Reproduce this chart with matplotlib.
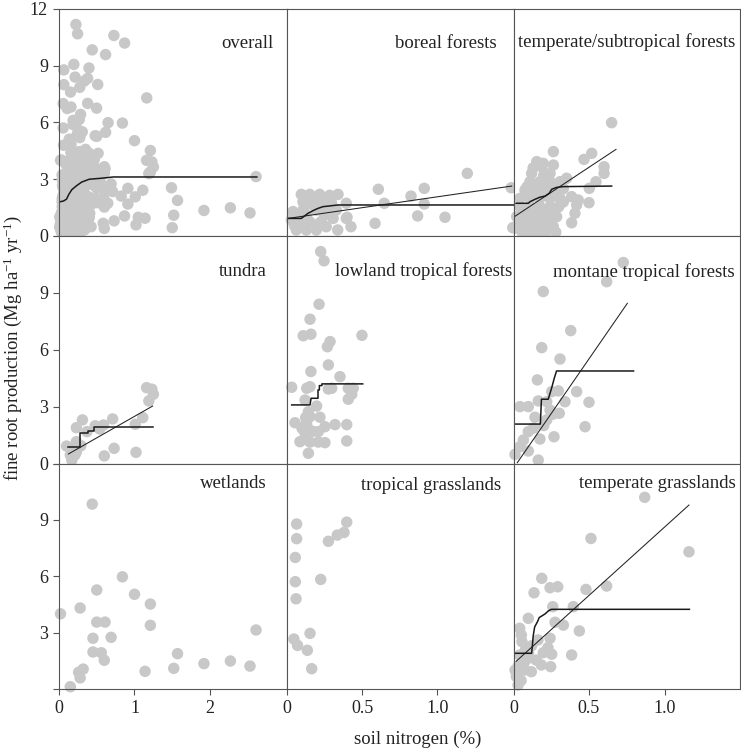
import matplotlib
matplotlib.use('Agg')
import matplotlib.pyplot as plt
import numpy as np

plt.rcParams['font.family'] = ['Liberation Serif', 'DejaVu Serif']
plt.rcParams['mathtext.fontset'] = 'custom'
plt.rcParams['mathtext.rm'] = 'Liberation Serif'
plt.rcParams['mathtext.it'] = 'Liberation Serif:italic'
plt.rcParams['mathtext.bf'] = 'Liberation Serif:bold'

# ---------------- data (soil N %, fine root production Mg ha-1 yr-1) ----------------
boreal_n = [1.198, 1.49, 0.607, 0.824, 0.912, 0.646, 0.912, 0.868, 1.05, 0.585, 1.50, 0.399, 0.425, 0.337,
            0.095, 0.151, 0.217, 0.284, 0.339, 0.106, 0.173, 0.239, 0.294, 0.394, 0.04, 0.106, 0.195, 0.261,
            0.328, 0.394, 0.306, 0.029, 0.084, 0.15, 0.227, 0.261, 0.062, 0.128, 0.195,
            0.07, 0.13, 0.18, 0.25, 0.05, 0.2, 0.12, 0.3]
boreal_fr = [3.31, 2.55, 2.47, 2.11, 2.52, 1.73, 1.69, 1.06, 0.99, 0.67, 0.44, 0.99, 0.49, 0.32,
             2.2, 2.2, 2.2, 2.15, 2.2, 1.81, 1.81, 1.81, 1.81, 1.73, 1.29, 1.37, 1.37, 1.37,
             1.37, 0.93, 0.93, 0.85, 0.76, 0.76, 0.76, 0.49, 0.32, 0.32, 0.32,
             1.0, 1.1, 1.6, 1.1, 0.55, 0.6, 1.6, 1.6]

temperate_n = [0.65, 0.264, 0.518, 0.467, 0.6, 0.6, 0.546, 0.502, 0.5, 0.385, 0.429, 0.418, 0.407, 0.385, 0.017,
               0.154, 0.197, 0.187, 0.264, 0.242, 0.12, 0.352,
               0.109, 0.175, 0.242, 0.308, 0.076, 0.142, 0.209, 0.275,
               0.043, 0.109, 0.175, 0.242, 0.308, 0.043, 0.109, 0.175, 0.242, 0.30,
               0.021, 0.087, 0.154, 0.22, 0.286, 0.015, 0.087, 0.154, 0.22, 0.264, 0.154, 0.209,
               0.13, 0.2, 0.09, 0.16, 0.27, 0.06, 0.13, 0.2, 0.26, 0.12, 0.19, 0.25, 0.05, 0.33, 0.33,
               0.06, 0.28, 0.1]
temperate_fr = [5.99, 4.46, 4.37, 4.05, 3.66, 3.31, 2.87, 2.52, 1.76, 2.08, 1.90, 1.64, 1.20, 0.70, 0.41,
                3.93, 3.84, 3.66, 3.75, 3.31, 3.31, 3.05,
                2.87, 2.87, 2.87, 2.87, 2.43, 2.43, 2.43, 2.43,
                1.99, 1.99, 1.99, 1.99, 1.99, 1.55, 1.55, 1.55, 1.55, 1.55,
                1.02, 1.02, 1.02, 1.02, 1.02, 0.49, 0.49, 0.40, 0.49, 0.49, 0.05, 0.05,
                3.6, 3.2, 2.6, 2.2, 2.2, 1.3, 1.3, 1.3, 1.3, 0.75, 0.75, 0.8, 0.75, 2.5, 1.8,
                0.15, 0.2, 0.25]

tundra_n = [1.16, 1.23, 1.25, 1.19, 1.11, 1.01, 1.02, 0.71, 0.73, 0.60, 0.59, 0.48, 0.54, 0.31, 0.23, 0.37,
            0.10, 0.23, 0.20, 0.29, 0.15, 0.21, 0.17, 0.23]
tundra_fr = [4.0, 3.92, 3.65, 3.30, 2.42, 2.07, 0.59, 2.35, 0.80, 0.40, 2.03, 1.99, 1.82, 2.30, 1.89, 1.68,
             0.92, 1.15, 0.80, 0.94, 0.45, 0.45, 0.18, 0.6]

lowland_n = [0.224, 0.246, 0.213, 0.153, 0.108, 0.159, 0.498, 0.286, 0.268, 0.275, 0.159, 0.352, 0.031, 0.131,
             0.153, 0.275, 0.297, 0.407, 0.44, 0.43, 0.407, 0.12, 0.197, 0.142, 0.124, 0.153, 0.219, 0.053,
             0.131, 0.252, 0.319, 0.397, 0.208, 0.12, 0.086, 0.153, 0.208, 0.252, 0.397, 0.142,
             0.13, 0.17, 0.1]
lowland_fr = [11.18, 10.69, 8.40, 7.61, 6.74, 6.82, 6.76, 6.43, 6.16, 5.2, 4.85, 4.58, 4.02, 3.97,
              4.05, 3.93, 3.97, 3.97, 3.97, 3.65, 3.39, 3.35, 3.03, 2.73, 2.42, 2.47, 2.44, 2.15,
              2.03, 1.94, 2.05, 2.05, 1.68, 1.59, 1.15, 1.13, 1.13, 1.10, 1.19, 0.54,
              2.2, 1.7, 1.85]

montane_n = [0.727, 0.617, 0.197, 0.379, 0.187, 0.308, 0.158, 0.297, 0.253, 0.418, 0.164, 0.22, 0.341, 0.5,
             0.043, 0.098, 0.242, 0.303, 0.142, 0.22, 0.474, 0.131, 0.098, 0.175, 0.268, 0.065, 0.043,
             0.098, 0.01, 0.164, 0.26, 0.2]
montane_fr = [10.6, 9.59, 9.07, 7.01, 6.11, 5.51, 4.41, 3.83, 3.79, 3.79, 3.30, 3.26, 3.26, 3.23,
              3.0, 3.0, 2.82, 2.65, 2.44, 2.30, 1.94, 1.86, 1.68, 1.29, 1.41, 1.24, 0.89,
              0.66, 0.48, 0.18, 2.6, 2.0]

wetland_n = [0.02, 0.44, 0.15, 0.28, 0.50, 0.84, 1.00, 1.21, 1.21, 0.50, 0.61, 0.45, 0.69, 0.45, 0.56, 0.60,
             0.26, 0.32, 0.28, 1.14, 1.52, 1.57, 1.92, 2.27, 2.53, 2.61]
wetland_fr = [4.0, 9.84, 0.12, 4.31, 5.27, 5.97, 5.04, 4.52, 3.39, 3.56, 3.56, 2.70, 2.75, 1.97, 1.93, 1.53,
              0.89, 1.06, 0.59, 0.94, 1.10, 1.88, 1.35, 1.49, 1.22, 3.14]

tropgrass_n = [0.064, 0.064, 0.055, 0.055, 0.06, 0.224, 0.275, 0.334, 0.379, 0.397, 0.153, 0.046, 0.07,
               0.135, 0.164]
tropgrass_fr = [8.78, 8.0, 7.0, 5.71, 4.80, 5.83, 7.86, 8.19, 8.33, 8.88, 2.96, 2.66, 2.32, 2.06, 1.08]

tempgrass_n = [0.869, 0.513, 1.162, 0.187, 0.242, 0.293, 0.136, 0.48, 0.617, 0.26, 0.396, 0.098, 0.275, 0.33,
               0.436, 0.242, 0.385, 0.197, 0.253, 0.246, 0.041, 0.052, 0.056, 0.162, 0.228, 0.041, 0.096,
               0.151, 0.184, 0.03, 0.074, 0.118, 0.019, 0.05, 0.03, 0.01, 0.08, 0.12, 0.07, 0.1]
tempgrass_fr = [10.2, 8.01, 7.30, 5.89, 5.39, 5.44, 5.12, 5.30, 5.48, 4.38, 4.38, 3.76, 3.55, 3.40,
                3.09, 2.70, 1.81, 1.93, 1.85, 1.19, 3.23, 2.87, 2.52, 2.61, 2.2, 1.81, 1.63,
                1.54, 1.28, 1.19, 1.01, 0.92, 0.66, 0.45, 0.21, 1.0, 2.1, 2.3, 1.4, 1.9]

# fitted curves (step / monotone fits and linear regressions)
overall_step_n = [0.004, 0.06, 0.1, 0.13, 0.17, 0.23, 0.3, 0.4, 0.55, 0.72, 2.62]
overall_step_fr = [1.80, 1.85, 1.95, 2.2, 2.45, 2.65, 2.85, 3.0, 3.05, 3.12, 3.12]

boreal_step_n = [0.007, 0.095, 0.14, 0.173, 0.206, 0.239, 0.339, 1.508]
boreal_step_fr = [0.93, 0.93, 1.2, 1.34, 1.46, 1.55, 1.64, 1.64]
boreal_reg_n = [0.007, 1.493]
boreal_reg_fr = [0.93, 2.64]

temperate_step_n = [0.017, 0.098, 0.109, 0.142, 0.175, 0.209, 0.237, 0.253, 0.286, 0.33, 0.65]
temperate_step_fr = [1.73, 1.73, 1.81, 1.94, 2.05, 2.11, 2.26, 2.47, 2.57, 2.61, 2.64]
temperate_reg_n = [0.0, 0.679]
temperate_reg_fr = [0.99, 4.58]

tundra_step_n = [0.115, 0.278, 0.278, 0.39, 0.39, 0.47, 0.47, 0.54, 0.54, 1.25]
tundra_step_fr = [0.89, 0.89, 1.59, 1.59, 1.73, 1.73, 1.91, 1.91, 1.94, 1.94]
tundra_reg_n = [0.124, 1.24]
tundra_reg_fr = [0.50, 3.03]

lowland_step_n = [0.031, 0.153, 0.16, 0.206, 0.206, 0.215, 0.215, 0.232, 0.232, 0.503]
lowland_step_fr = [3.09, 3.09, 3.44, 3.44, 3.88, 3.88, 4.11, 4.11, 4.2, 4.2]

montane_step_n = [0.0, 0.178, 0.185, 0.23, 0.24, 0.255, 0.27, 0.285, 0.30, 0.795]
montane_step_fr = [2.08, 2.08, 3.39, 3.39, 3.65, 4.05, 4.5, 4.88, 4.88, 4.88]
montane_reg_n = [0.025, 0.754]
montane_reg_fr = [0.04, 8.45]

tempgrass_step_n = [0.01, 0.12, 0.125, 0.13, 0.14, 0.16, 0.17, 0.19, 0.21, 0.23, 0.25, 1.165]
tempgrass_step_fr = [1.90, 1.90, 2.3, 2.8, 3.3, 3.6, 3.8, 3.9, 4.0, 4.15, 4.24, 4.24]
tempgrass_reg_n = [0.017, 1.162]
tempgrass_reg_fr = [1.47, 9.79]

labels = ['overall', 'boreal forests', 'temperate/subtropical forests',
          'tundra', 'lowland tropical forests', 'montane tropical forests',
          'wetlands', 'tropical grasslands', 'temperate grasslands']

overall_n = (boreal_n + temperate_n + tundra_n + lowland_n + montane_n + wetland_n + tropgrass_n + tempgrass_n)
overall_fr = (boreal_fr + temperate_fr + tundra_fr + lowland_fr + montane_fr + wetland_fr + tropgrass_fr
              + tempgrass_fr)

y_ticks = [0, 3, 6, 9, 12]
x_ticks_col = [[0, 1, 2], [0, 0.5, 1.0], [0, 0.5, 1.0]]
x_ticklabels_col = [['0', '1', '2'], ['0', '0.5', '1.0'], ['0', '0.5', '1.0']]

# ---------------- layout ----------------
W, H = 741, 749
fig = plt.figure(figsize=(W / 100, H / 100), dpi=100)

col_l = [59, 287, 513.5]
col_r = [287, 513.5, 740]
row_t = [9, 236, 463.5]
row_b = [236, 463.5, 689]
xmax_col = [3.02, 1.505, 1.50]

panels = [
    (overall_n, overall_fr, (overall_step_n, overall_step_fr), None),
    (boreal_n, boreal_fr, (boreal_step_n, boreal_step_fr), (boreal_reg_n, boreal_reg_fr)),
    (temperate_n, temperate_fr, (temperate_step_n, temperate_step_fr), (temperate_reg_n, temperate_reg_fr)),
    (tundra_n, tundra_fr, (tundra_step_n, tundra_step_fr), (tundra_reg_n, tundra_reg_fr)),
    (lowland_n, lowland_fr, (lowland_step_n, lowland_step_fr), None),
    (montane_n, montane_fr, (montane_step_n, montane_step_fr), (montane_reg_n, montane_reg_fr)),
    (wetland_n, wetland_fr, None, None),
    (tropgrass_n, tropgrass_fr, None, None),
    (tempgrass_n, tempgrass_fr, (tempgrass_step_n, tempgrass_step_fr), (tempgrass_reg_n, tempgrass_reg_fr)),
]
# label right-gap (px) and baseline offset from panel top (px)
label_gap = [14, 17, 5, 20, 1, 5, 20, 12, 4]
label_base = [39, 39, 38, 40, 40, 41, 25, 27, 24]

spine_col = '#555555'
pt_col = '#c8c8c8'

for i, (xs, ys, step, reg) in enumerate(panels):
    r, c = divmod(i, 3)
    l, rr, t, b = col_l[c], col_r[c], row_t[r], row_b[r]
    ax = fig.add_axes([l / W, 1 - b / H, (rr - l) / W, (b - t) / H])
    ax.set_xlim(0, xmax_col[c])
    ax.set_ylim(0, 12)
    ax.scatter(xs, ys, s=68, color=pt_col, edgecolors='none', zorder=2, clip_on=False)
    if reg is not None:
        ax.plot(reg[0], reg[1], color='#222222', lw=0.75, zorder=3)
    if step is not None:
        ax.plot(step[0], step[1], color='#1a1a1a', lw=1.1, zorder=4)
    for sp in ax.spines.values():
        sp.set_color(spine_col)
        sp.set_linewidth(0.8)
        sp.set_zorder(5)
    pw, ph = rr - l, b - t
    ax.text(1 - label_gap[i] / pw, 1 - label_base[i] / ph, labels[i], transform=ax.transAxes,
            ha='right', va='baseline', fontsize=13.5, color='#222222', zorder=6)
    ax.tick_params(direction='out', length=4, width=0.8, color=spine_col, labelsize=13,
                   labelcolor='#222222', pad=4)
    if c == 0:
        ax.set_yticks(y_ticks)
        if r == 0:
            ax.set_yticklabels(['0', '3', '6', '9', '12'])
        elif r == 1:
            ax.set_yticklabels(['0', '3', '6', '9', ''])
        else:
            ax.set_yticklabels(['', '3', '6', '9', ''])
    else:
        ax.set_yticks([])
    if r == 2:
        ax.set_xticks(x_ticks_col[c])
        ax.set_xticklabels(x_ticklabels_col[c])
    else:
        ax.set_xticks([])

fig.text(418 / W, 1 - 744 / H, 'soil nitrogen (%)', ha='center', va='baseline', fontsize=13.5,
         color='#222222')
fig.text(13 / W, 1 - 348 / H, r'fine root production (Mg ha$^{-1}$ yr$^{-1}$)', rotation=90,
         ha='center', va='center', fontsize=13.5, color='#222222')

fig.savefig('out.png', dpi=100)
